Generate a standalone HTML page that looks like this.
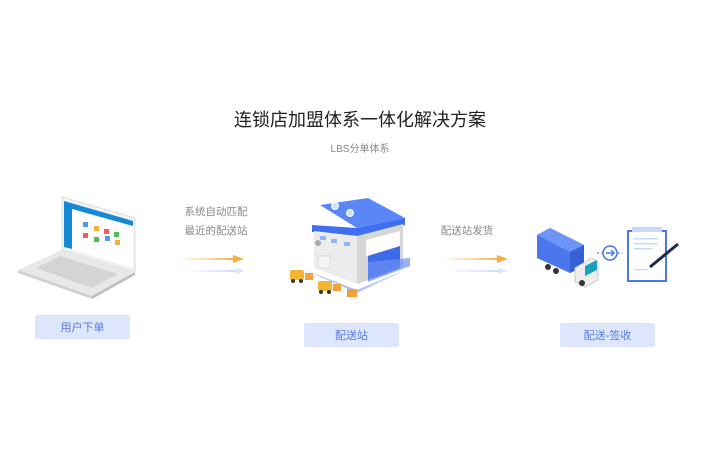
<!DOCTYPE html>
<html><head><meta charset="utf-8"><style>
html,body{margin:0;padding:0;background:#fff;width:720px;height:450px;overflow:hidden}
svg{display:block}
text{font-family:"Liberation Sans","Noto Sans CJK SC",sans-serif}
</style></head><body>
<svg width="720" height="450" viewBox="0 0 720 450">
<defs>
<linearGradient id="og" x1="0" x2="1"><stop offset="0" stop-color="#fbc36a" stop-opacity="0"/><stop offset="1" stop-color="#f6b042"/></linearGradient>
<linearGradient id="bg" x1="0" x2="1"><stop offset="0" stop-color="#c9d8fb" stop-opacity="0"/><stop offset="1" stop-color="#c9d8fb"/></linearGradient>
</defs>
<text x="360" y="126" text-anchor="middle" font-size="18" fill="#222">连锁店加盟体系一体化解决方案</text>
<text x="360" y="152" text-anchor="middle" font-size="10" fill="#888">LBS分单体系</text>

<!-- laptop -->
<polygon points="62,197 135,218 135,272 62,250" fill="#f2f2f2" stroke="#ddd"/>
<polygon points="64,201 133,221 133,268 64,247" fill="#fff"/>
<polygon points="64,201 133,221 133,226 72,209 72,249 64,247" fill="#1589d6"/>
<g fill="#4a9bf0"><rect x="83" y="222" width="5" height="5"/><rect x="105" y="236" width="5" height="5"/></g>
<g fill="#f6b042"><rect x="94" y="226" width="5" height="5"/><rect x="115" y="240" width="5" height="5"/></g>
<g fill="#ef5a5a"><rect x="104" y="229" width="5" height="5"/><rect x="83" y="233" width="5" height="5"/></g>
<g fill="#4cbf5a"><rect x="114" y="232" width="5" height="5"/><rect x="94" y="237" width="5" height="5"/></g>
<polygon points="62,250 135,272 92,296 18,270" fill="#e8e8e8"/>
<polygon points="60,256 118,274 92,288 36,268" fill="#d4d4d4"/>
<polygon points="18,270 92,296 92,299 18,273" fill="#d0d0d0"/>
<polygon points="92,296 135,272 135,275 92,299" fill="#bdbdbd"/>

<rect x="35" y="315" width="95" height="24" rx="2" fill="#dde6fb"/>
<text x="82.5" y="331" text-anchor="middle" font-size="11" fill="#5b7be0">用户下单</text>

<text x="216" y="215" text-anchor="middle" font-size="10.5" fill="#888">系统自动匹配</text>
<text x="216" y="234" text-anchor="middle" font-size="10.5" fill="#888">最近的配送站</text>
<rect x="178" y="258" width="56" height="2" fill="url(#og)"/><polygon points="233,255 244,259 233,263" fill="#f6b042"/>
<rect x="185" y="270" width="55" height="2" fill="url(#bg)"/><polygon points="236,268 244,271 236,274" fill="#dbe5fc"/>

<!-- warehouse -->
<polygon points="320,205 368,198 405,218 357,228" fill="#5b86f5"/>
<polygon points="312,225 357,228 405,218 405,225 357,236 312,232" fill="#3f6ff0"/>
<polygon points="314,231 357,236 357,284 314,268" fill="#ececec"/>
<polygon points="357,236 403,224 403,268 357,284" fill="#d6d6d6"/>
<polygon points="366,240 400,231 400,246 366,256" fill="#fff"/>
<polygon points="368,256 400,246 400,268 368,280" fill="#3d6ae8"/>
<polygon points="368,262 410,258 410,266 368,282" fill="#6b90f5" opacity=".7"/>
<g fill="#8fb6f5"><rect x="320" y="236" width="6" height="4"/><rect x="331" y="239" width="6" height="4"/><rect x="344" y="242" width="6" height="4"/></g>
<circle cx="318" cy="243" r="3" fill="#aaa"/>
<rect x="318" y="256" width="12" height="12" fill="#f5f5f5" stroke="#ddd"/>
<circle cx="335" cy="206" r="3.5" fill="#cfe0ff" stroke="#fff"/><circle cx="350" cy="213" r="3.5" fill="#cfe0ff" stroke="#fff"/>
<polygon points="305,270 357,290 405,270 357,293" fill="#5b86f5" opacity=".5"/>
<g fill="#f2b632"><rect x="290" y="270" width="14" height="10" rx="2"/><rect x="318" y="281" width="14" height="10" rx="2"/></g>
<g fill="#f2a03a"><rect x="305" y="273" width="8" height="7"/><rect x="333" y="284" width="8" height="7"/><rect x="347" y="289" width="10" height="8"/></g>
<g fill="#333"><circle cx="293" cy="281" r="2"/><circle cx="301" cy="281" r="2"/><circle cx="321" cy="292" r="2"/><circle cx="329" cy="292" r="2"/></g>

<rect x="304" y="323" width="95" height="24" rx="2" fill="#dde6fb"/>
<text x="351.5" y="339" text-anchor="middle" font-size="11" fill="#5b7be0">配送站</text>

<text x="467" y="234" text-anchor="middle" font-size="10.5" fill="#888">配送站发货</text>
<rect x="441" y="258" width="57" height="2" fill="url(#og)"/><polygon points="497,255 508,259 497,263" fill="#f6b042"/>
<rect x="446" y="270" width="56" height="2" fill="url(#bg)"/><polygon points="499,268 507,271 499,274" fill="#dbe5fc"/>

<!-- truck -->
<polygon points="537,235 550,228 584,245 584,266 570,273 537,258" fill="#4a78ec"/>
<polygon points="537,235 550,228 584,245 570,252" fill="#6d94f6"/>
<polygon points="570,252 584,245 584,266 570,273" fill="#3560d8"/>
<polygon points="575,268 592,258 598,262 598,280 585,287 575,282" fill="#eee" stroke="#ccc"/>
<polygon points="585,266 597,260 597,270 585,276" fill="#1aa3b8"/>
<g fill="#333"><circle cx="548" cy="267" r="3"/><circle cx="556" cy="271" r="3"/><circle cx="582" cy="283" r="3"/></g>
<line x1="597" y1="253" x2="602" y2="253" stroke="#4a78ec" stroke-dasharray="2 2"/>
<circle cx="610" cy="253" r="7" fill="#fff" stroke="#4a78ec" stroke-width="1.6"/>
<path d="M606,253 h7 M611,250 l3,3 l-3,3" stroke="#4a78ec" stroke-width="1.4" fill="none"/>
<line x1="618" y1="253" x2="623" y2="253" stroke="#4a78ec" stroke-dasharray="2 2"/>
<rect x="627" y="230" width="40" height="52" fill="#4a78ec"/>
<rect x="629" y="232" width="36" height="48" fill="#fff"/>
<rect x="632" y="227" width="30" height="5" fill="#c9d8fb"/>
<g fill="#c9d8fb"><rect x="634" y="238" width="24" height="1.5"/><rect x="634" y="243" width="24" height="1.5"/><rect x="634" y="248" width="18" height="1.5"/><rect x="634" y="269" width="14" height="1.5"/></g>
<line x1="650" y1="267" x2="678" y2="244" stroke="#1d2a55" stroke-width="3"/>

<rect x="560" y="323" width="95" height="24" rx="2" fill="#dde6fb"/>
<text x="607.5" y="339" text-anchor="middle" font-size="11" fill="#5b7be0">配送-签收</text>
</svg>
</body></html>
